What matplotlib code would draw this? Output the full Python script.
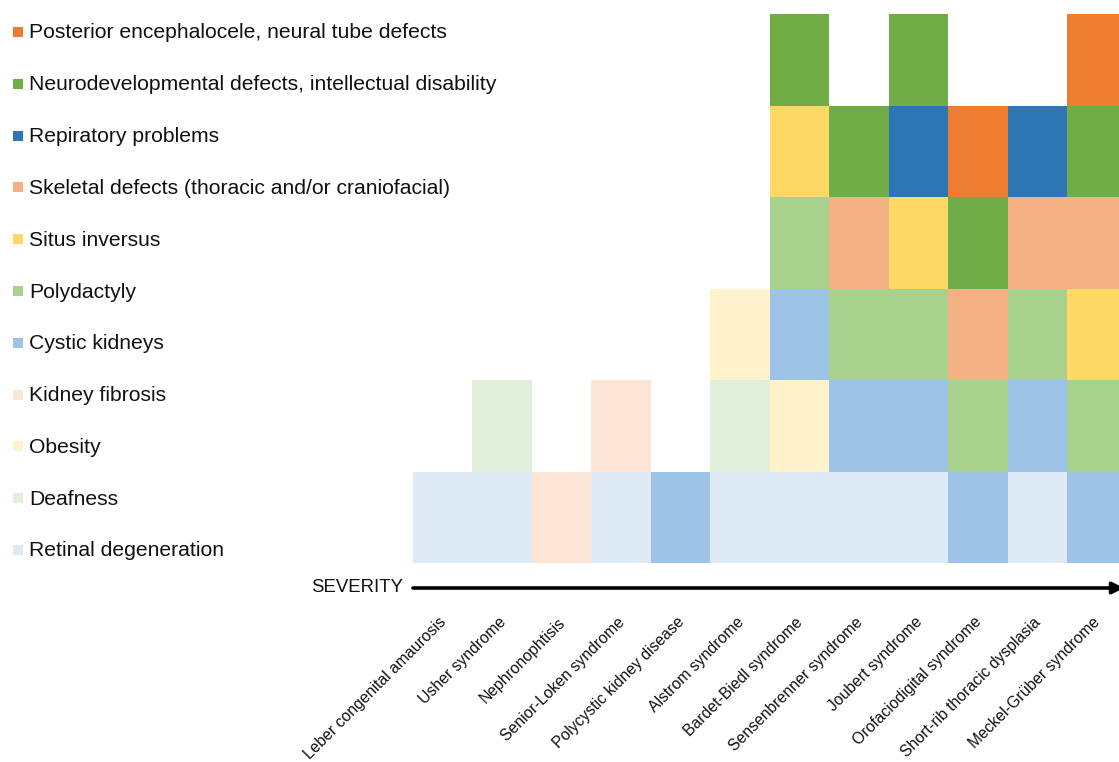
import matplotlib
matplotlib.use("Agg")
import matplotlib.pyplot as plt
from matplotlib.patches import Rectangle
from matplotlib.transforms import ScaledTranslation

plt.rcParams['font.family'] = ['Liberation Sans', 'DejaVu Sans']

# Feature categories (legend order, top to bottom)
features = [
    "Posterior encephalocele, neural tube defects",
    "Neurodevelopmental defects, intellectual disability",
    "Repiratory problems",
    "Skeletal defects (thoracic and/or craniofacial)",
    "Situs inversus",
    "Polydactyly",
    "Cystic kidneys",
    "Kidney fibrosis",
    "Obesity",
    "Deafness",
    "Retinal degeneration",
]
feature_colors = [
    "#ED7D31", "#70AD47", "#2E75B6", "#F4B183", "#FFD966", "#A9D18E",
    "#9DC3E6", "#FBE5D6", "#FFF2CC", "#E2EFDA", "#DEEAF6",
]

syndromes = [
    "Leber congenital amaurosis", "Usher syndrome", "Nephronophtisis",
    "Senior-Loken syndrome", "Polycystic kidney disease", "Alstrom syndrome",
    "Bardet-Biedl syndrome", "Sensenbrenner syndrome", "Joubert syndrome",
    "Orofaciodigital syndrome", "Short-rib thoracic dysplasia", "Meckel-Grüber syndrome",
]

# Stacked features for each syndrome, bottom to top
stacks = [
    ["Retinal degeneration"],
    ["Retinal degeneration", "Deafness"],
    ["Kidney fibrosis"],
    ["Retinal degeneration", "Kidney fibrosis"],
    ["Cystic kidneys"],
    ["Retinal degeneration", "Deafness", "Obesity"],
    ["Retinal degeneration", "Obesity", "Cystic kidneys", "Polydactyly", "Situs inversus",
     "Neurodevelopmental defects, intellectual disability"],
    ["Retinal degeneration", "Cystic kidneys", "Polydactyly",
     "Skeletal defects (thoracic and/or craniofacial)",
     "Neurodevelopmental defects, intellectual disability"],
    ["Retinal degeneration", "Cystic kidneys", "Polydactyly", "Situs inversus",
     "Repiratory problems", "Neurodevelopmental defects, intellectual disability"],
    ["Cystic kidneys", "Polydactyly", "Skeletal defects (thoracic and/or craniofacial)",
     "Neurodevelopmental defects, intellectual disability",
     "Posterior encephalocele, neural tube defects"],
    ["Retinal degeneration", "Cystic kidneys", "Polydactyly",
     "Skeletal defects (thoracic and/or craniofacial)", "Repiratory problems"],
    ["Cystic kidneys", "Polydactyly", "Situs inversus",
     "Skeletal defects (thoracic and/or craniofacial)",
     "Neurodevelopmental defects, intellectual disability",
     "Posterior encephalocele, neural tube defects"],
]

W, H = 1119, 762
fig = plt.figure(figsize=(W / 100, H / 100), dpi=100)

colw = 59.45
ax_left, ax_right, ax_top, ax_bot = 413, 1119, 14, 563
ax = fig.add_axes([ax_left / W, 1 - ax_bot / H, (ax_right - ax_left) / W, (ax_bot - ax_top) / H])

color_of = dict(zip(features, feature_colors))
for i, stack in enumerate(stacks):
    for j, feat in enumerate(stack):
        ax.bar(i + 0.5, 1, bottom=j, width=1.0, color=color_of[feat], linewidth=0)

ax.set_xlim(0, (ax_right - ax_left) / colw)
ax.set_ylim(0, 6)
for s in ax.spines.values():
    s.set_visible(False)
ax.set_yticks([])
ax.set_xticks([i + 0.5 for i in range(len(syndromes))])
ax.set_xticklabels(syndromes, rotation=45, ha='right', rotation_mode='anchor',
                   fontsize=11.3, color='#111111')
ax.tick_params(axis='x', length=0, pad=37)
shift = ScaledTranslation(-4 / 100, 0, fig.dpi_scale_trans)
for lab in ax.get_xticklabels():
    lab.set_transform(lab.get_transform() + shift)

# Legend
y0, dy = 38.5, 51.8
for k, (feat, col) in enumerate(zip(features, feature_colors)):
    yb = y0 + k * dy
    fig.patches.append(Rectangle((13 / W, 1 - (yb - 1.5) / H), 10 / W, 10 / H,
                                 transform=fig.transFigure, facecolor=col,
                                 edgecolor='none'))
    fig.text(29 / W, 1 - yb / H, feat, fontsize=15.2, va='baseline', ha='left',
             color='#111111')

# Severity arrow
ys = 588
fig.text(403 / W, 1 - ys / H, "SEVERITY", fontsize=13.4, ha='right', va='center',
         color='#111111')
ax2 = fig.add_axes([0, 0, 1, 1], facecolor='none')
ax2.set_xlim(0, W)
ax2.set_ylim(H, 0)
ax2.axis('off')
ax2.annotate("", xy=(1124, ys), xytext=(413, ys), annotation_clip=False,
             arrowprops=dict(arrowstyle='-|>', color='black', lw=2.6,
                             mutation_scale=17, shrinkA=0, shrinkB=0))

fig.savefig("out.png", dpi=100)
